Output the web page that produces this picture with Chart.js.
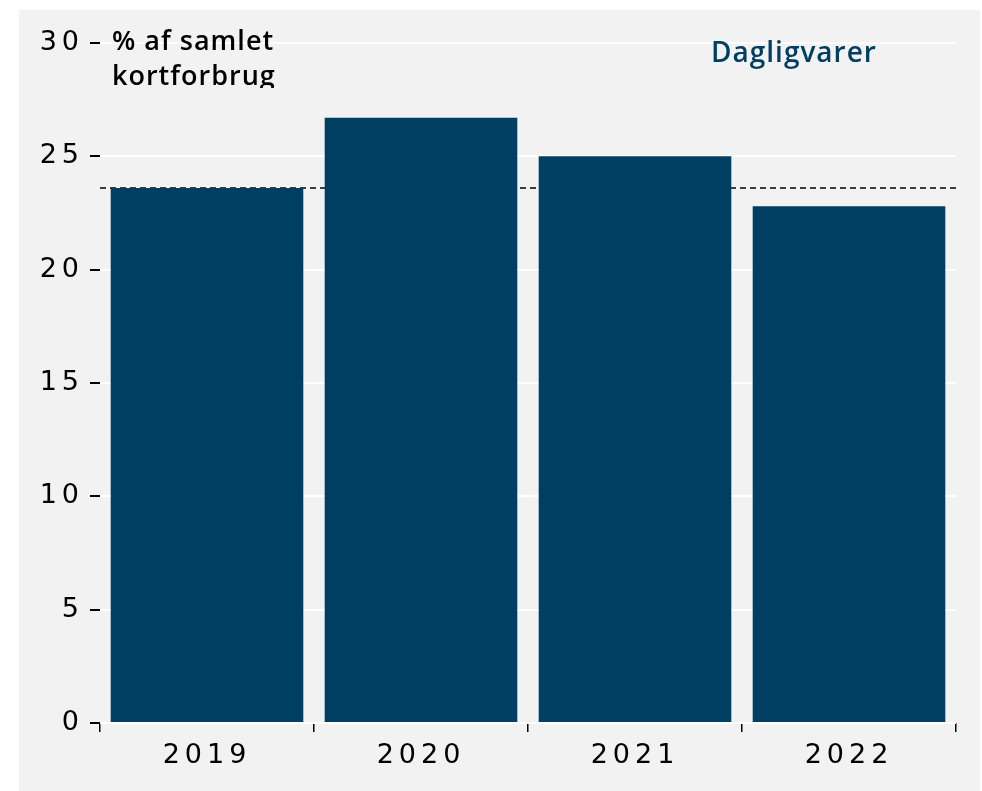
<!DOCTYPE html>
<html>
<head>
<meta charset="utf-8">
<script src="https://cdn.jsdelivr.net/npm/chart.js@4/dist/chart.umd.min.js"></script>
<style>
  html, body { margin: 0; padding: 0; background: #ffffff; }
  #panel { position: absolute; left: 19px; top: 10px; width: 961px; height: 781px; background: #f2f2f2; }
  canvas { display: block; }
</style>
</head>
<body>
<div id="panel"><canvas id="c" width="961" height="781"></canvas></div>
<script>
const categories = ['2019', '2020', '2021', '2022'];
const shareValues = [23.6, 26.7, 25.0, 22.8];
const referenceLevel = [23.6];
const yTicks = [0, 5, 10, 15, 20, 25, 30];
const titleLines = ['% af samlet', 'kortforbrug'];
const seriesLabel = 'Dagligvarer';

const NAVY = '#003f62';
const FONT = '"DejaVu Sans", sans-serif';
const TITLE_FONT = '"Open Sans", "DejaVu Sans", sans-serif';
const TICK_SPACING = '5px';

const refLinePlugin = {
  id: 'refLine',
  beforeDatasetsDraw(chart) {
    const { ctx, chartArea, scales } = chart;
    const y = scales.y.getPixelForValue(referenceLevel[0]);
    ctx.save();
    ctx.strokeStyle = '#000';
    ctx.lineWidth = 1.5;
    ctx.setLineDash([6, 4]);
    ctx.beginPath();
    ctx.moveTo(chartArea.left, y);
    ctx.lineTo(chartArea.right, y);
    ctx.stroke();
    ctx.restore();
  }
};

const textPlugin = {
  id: 'texts',
  afterDraw(chart) {
    const { ctx, chartArea } = chart;
    ctx.save();
    ctx.letterSpacing = '1px';
    ctx.font = '600 27px ' + TITLE_FONT;
    ctx.textAlign = 'left';
    ctx.textBaseline = 'alphabetic';
    ctx.fillStyle = '#000';
    const x0 = chartArea.left + 12;
    ctx.fillText(titleLines[0], x0, chartArea.top + 7);
    ctx.save();
    ctx.beginPath();
    ctx.rect(0, 0, chart.width, chartArea.top + 45);
    ctx.clip();
    ctx.fillText(titleLines[1], x0, chartArea.top + 42);
    ctx.restore();
    ctx.font = '600 28px ' + TITLE_FONT;
    ctx.fillStyle = NAVY;
    ctx.fillText(seriesLabel, chartArea.left + 611, chartArea.top + 19);
    ctx.restore();
  }
};

const spacingPlugin = {
  id: 'spacing',
  beforeInit(chart) { chart.ctx.letterSpacing = TICK_SPACING; },
  beforeUpdate(chart) { chart.ctx.letterSpacing = TICK_SPACING; },
  beforeDraw(chart) { chart.ctx.letterSpacing = TICK_SPACING; }
};

new Chart(document.getElementById('c'), {
  type: 'bar',
  data: {
    labels: categories,
    datasets: [{
      label: seriesLabel,
      data: shareValues,
      backgroundColor: NAVY,
      borderWidth: 0,
      barPercentage: 0.9,
      categoryPercentage: 1.0
    }]
  },
  options: {
    responsive: false,
    animation: false,
    devicePixelRatio: 1,
    layout: { padding: { left: 0, right: 24, top: 33, bottom: 0 } },
    plugins: {
      legend: { display: false },
      tooltip: { enabled: false },
      title: { display: false }
    },
    scales: {
      x: {
        offset: true,
        border: { display: false },
        grid: {
          offset: true,
          drawOnChartArea: false,
          drawTicks: true,
          tickLength: 9,
          tickColor: '#000',
          lineWidth: 1.5
        },
        ticks: {
          color: '#000',
          font: { family: FONT, size: 27 },
          padding: 8,
          maxRotation: 0
        },
        afterFit(scale) { scale.height = 68; }
      },
      y: {
        min: 0,
        max: 30,
        border: { display: false },
        grid: {
          color: '#ffffff',
          lineWidth: 2,
          tickColor: '#000',
          tickLength: 10
        },
        afterBuildTicks(scale) { scale.ticks = yTicks.map(v => ({ value: v })); },
        ticks: {
          color: '#000',
          font: { family: FONT, size: 27 },
          padding: 6
        },
        afterFit(scale) { scale.width = 81; }
      }
    }
  },
  plugins: [spacingPlugin, refLinePlugin, textPlugin]
});
</script>
</body>
</html>
